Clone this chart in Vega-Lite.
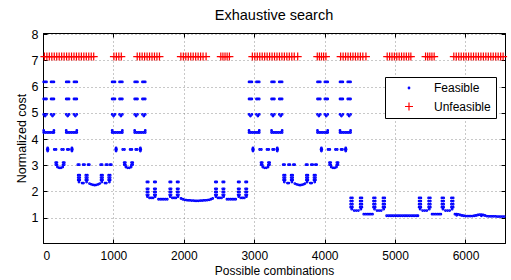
{
  "$schema": "https://vega.github.io/schema/vega-lite/v6.json",
  "width": 462,
  "height": 210,
  "autosize": {"type": "none"},
  "padding": {"left": 43, "top": 33, "right": 6, "bottom": 37},
  "background": "white",
  "title": {"text": "Exhaustive search", "font": "Liberation Sans", "fontSize": 14.5, "fontWeight": "normal", "color": "black", "offset": 5, "anchor": "middle"},
  "config": {
    "view": {"stroke": "black", "strokeWidth": 1},
    "axis": {
      "labelFont": "Liberation Sans", "labelFontSize": 12.5, "labelColor": "black",
      "titleFont": "Liberation Sans", "titleFontSize": 12.5, "titleFontWeight": "normal", "titleColor": "black",
      "domainColor": "black", "tickColor": "black", "tickSize": -4,
      "gridColor": "#777", "gridDash": [1, 3], "gridOpacity": 0.8
    },
    "legend": {
      "labelFont": "Liberation Sans", "labelFontSize": 12, "labelColor": "black"
    }
  },
  "layer": [
    {
      "data": {"values": [
{"x":10,"y":6.18,"t":"F"},{"x":30,"y":6.18,"t":"F"},{"x":50,"y":6.18,"t":"F"},{"x":115,"y":6.18,"t":"F"},{"x":135,"y":6.18,"t":"F"},{"x":155,"y":6.18,"t":"F"},{"x":330,"y":6.18,"t":"F"},{"x":350,"y":6.18,"t":"F"},{"x":370,"y":6.18,"t":"F"},{"x":440,"y":6.18,"t":"F"},{"x":460,"y":6.18,"t":"F"},{"x":480,"y":6.18,"t":"F"},
{"x":10,"y":5.53,"t":"F"},{"x":30,"y":5.53,"t":"F"},{"x":50,"y":5.53,"t":"F"},{"x":115,"y":5.53,"t":"F"},{"x":135,"y":5.53,"t":"F"},{"x":155,"y":5.53,"t":"F"},{"x":330,"y":5.53,"t":"F"},{"x":350,"y":5.53,"t":"F"},{"x":370,"y":5.53,"t":"F"},{"x":440,"y":5.53,"t":"F"},{"x":460,"y":5.53,"t":"F"},{"x":480,"y":5.53,"t":"F"},
{"x":10,"y":4.94,"t":"F"},{"x":30,"y":4.88,"t":"F"},{"x":50,"y":4.94,"t":"F"},{"x":115,"y":4.94,"t":"F"},{"x":135,"y":4.88,"t":"F"},{"x":155,"y":4.94,"t":"F"},{"x":330,"y":4.94,"t":"F"},{"x":350,"y":4.88,"t":"F"},{"x":370,"y":4.94,"t":"F"},{"x":440,"y":4.94,"t":"F"},{"x":460,"y":4.88,"t":"F"},{"x":480,"y":4.94,"t":"F"},
{"x":10,"y":4.25,"t":"F"},{"x":35,"y":4.25,"t":"F"},{"x":60,"y":4.25,"t":"F"},{"x":85,"y":4.25,"t":"F"},{"x":110,"y":4.25,"t":"F"},{"x":135,"y":4.25,"t":"F"},{"x":155,"y":4.25,"t":"F"},{"x":330,"y":4.25,"t":"F"},{"x":355,"y":4.25,"t":"F"},{"x":380,"y":4.25,"t":"F"},{"x":405,"y":4.25,"t":"F"},{"x":430,"y":4.25,"t":"F"},{"x":455,"y":4.25,"t":"F"},{"x":480,"y":4.25,"t":"F"},
{"x":10,"y":4.33,"t":"F"},{"x":155,"y":4.33,"t":"F"},{"x":330,"y":4.33,"t":"F"},{"x":480,"y":4.33,"t":"F"},
{"x":60,"y":3.6,"t":"F"},{"x":72,"y":3.6,"t":"F"},{"x":66,"y":3.66,"t":"F"},{"x":66,"y":3.54,"t":"F"},{"x":160,"y":3.6,"t":"F"},{"x":185,"y":3.6,"t":"F"},{"x":265,"y":3.6,"t":"F"},{"x":290,"y":3.6,"t":"F"},{"x":345,"y":3.6,"t":"F"},{"x":365,"y":3.6,"t":"F"},{"x":405,"y":3.6,"t":"F"},{"x":417,"y":3.6,"t":"F"},{"x":411,"y":3.66,"t":"F"},{"x":411,"y":3.54,"t":"F"},
{"x":180,"y":3.1,"t":"F"},{"x":198,"y":3.1,"t":"F"},{"x":285,"y":3.1,"t":"F"},{"x":303,"y":3.1,"t":"F"},{"x":182,"y":3.02,"t":"F"},{"x":200,"y":3.0,"t":"F"},{"x":283,"y":3.0,"t":"F"},{"x":301,"y":3.02,"t":"F"},{"x":205,"y":2.93,"t":"F"},{"x":230,"y":2.9,"t":"F"},{"x":255,"y":2.9,"t":"F"},{"x":280,"y":2.93,"t":"F"},
{"x":495,"y":3.02,"t":"F"},{"x":515,"y":3.02,"t":"F"},{"x":570,"y":3.02,"t":"F"},{"x":590,"y":3.02,"t":"F"},{"x":640,"y":3.02,"t":"F"},{"x":658,"y":3.02,"t":"F"},{"x":819,"y":3.02,"t":"F"},{"x":839,"y":3.02,"t":"F"},{"x":894,"y":3.02,"t":"F"},{"x":914,"y":3.02,"t":"F"},{"x":952,"y":3.02,"t":"F"},{"x":970,"y":3.02,"t":"F"},
{"x":500,"y":2.62,"t":"F"},{"x":522,"y":2.62,"t":"F"},{"x":608,"y":2.62,"t":"F"},{"x":630,"y":2.62,"t":"F"},{"x":824,"y":2.62,"t":"F"},{"x":846,"y":2.62,"t":"F"},{"x":932,"y":2.62,"t":"F"},{"x":954,"y":2.62,"t":"F"},
{"x":500,"y":2.53,"t":"F"},{"x":522,"y":2.53,"t":"F"},{"x":608,"y":2.53,"t":"F"},{"x":630,"y":2.53,"t":"F"},{"x":824,"y":2.53,"t":"F"},{"x":846,"y":2.53,"t":"F"},{"x":932,"y":2.53,"t":"F"},{"x":954,"y":2.53,"t":"F"},
{"x":500,"y":2.44,"t":"F"},{"x":522,"y":2.44,"t":"F"},{"x":608,"y":2.44,"t":"F"},{"x":630,"y":2.44,"t":"F"},{"x":824,"y":2.44,"t":"F"},{"x":846,"y":2.44,"t":"F"},{"x":932,"y":2.44,"t":"F"},{"x":954,"y":2.44,"t":"F"},
{"x":511,"y":2.36,"t":"F"},{"x":619,"y":2.36,"t":"F"},{"x":835,"y":2.36,"t":"F"},{"x":943,"y":2.36,"t":"F"},{"x":555,"y":2.32,"t":"F"},{"x":575,"y":2.32,"t":"F"},{"x":880,"y":2.32,"t":"F"},{"x":900,"y":2.32,"t":"F"},
{"x":660,"y":2.3,"t":"F"},{"x":685,"y":2.27,"t":"F"},{"x":710,"y":2.25,"t":"F"},{"x":735,"y":2.24,"t":"F"},{"x":760,"y":2.25,"t":"F"},{"x":785,"y":2.27,"t":"F"},{"x":805,"y":2.3,"t":"F"},

{"x":982,"y":6.18,"t":"F"},{"x":1002,"y":6.18,"t":"F"},{"x":1022,"y":6.18,"t":"F"},{"x":1087,"y":6.18,"t":"F"},{"x":1107,"y":6.18,"t":"F"},{"x":1127,"y":6.18,"t":"F"},{"x":1302,"y":6.18,"t":"F"},{"x":1322,"y":6.18,"t":"F"},{"x":1342,"y":6.18,"t":"F"},{"x":1412,"y":6.18,"t":"F"},{"x":1432,"y":6.18,"t":"F"},{"x":1452,"y":6.18,"t":"F"},
{"x":982,"y":5.53,"t":"F"},{"x":1002,"y":5.53,"t":"F"},{"x":1022,"y":5.53,"t":"F"},{"x":1087,"y":5.53,"t":"F"},{"x":1107,"y":5.53,"t":"F"},{"x":1127,"y":5.53,"t":"F"},{"x":1302,"y":5.53,"t":"F"},{"x":1322,"y":5.53,"t":"F"},{"x":1342,"y":5.53,"t":"F"},{"x":1412,"y":5.53,"t":"F"},{"x":1432,"y":5.53,"t":"F"},{"x":1452,"y":5.53,"t":"F"},
{"x":982,"y":4.94,"t":"F"},{"x":1002,"y":4.88,"t":"F"},{"x":1022,"y":4.94,"t":"F"},{"x":1087,"y":4.94,"t":"F"},{"x":1107,"y":4.88,"t":"F"},{"x":1127,"y":4.94,"t":"F"},{"x":1302,"y":4.94,"t":"F"},{"x":1322,"y":4.88,"t":"F"},{"x":1342,"y":4.94,"t":"F"},{"x":1412,"y":4.94,"t":"F"},{"x":1432,"y":4.88,"t":"F"},{"x":1452,"y":4.94,"t":"F"},
{"x":982,"y":4.25,"t":"F"},{"x":1007,"y":4.25,"t":"F"},{"x":1032,"y":4.25,"t":"F"},{"x":1057,"y":4.25,"t":"F"},{"x":1082,"y":4.25,"t":"F"},{"x":1107,"y":4.25,"t":"F"},{"x":1127,"y":4.25,"t":"F"},{"x":1302,"y":4.25,"t":"F"},{"x":1327,"y":4.25,"t":"F"},{"x":1352,"y":4.25,"t":"F"},{"x":1377,"y":4.25,"t":"F"},{"x":1402,"y":4.25,"t":"F"},{"x":1427,"y":4.25,"t":"F"},{"x":1452,"y":4.25,"t":"F"},
{"x":982,"y":4.33,"t":"F"},{"x":1127,"y":4.33,"t":"F"},{"x":1302,"y":4.33,"t":"F"},{"x":1452,"y":4.33,"t":"F"},
{"x":1032,"y":3.6,"t":"F"},{"x":1044,"y":3.6,"t":"F"},{"x":1038,"y":3.66,"t":"F"},{"x":1038,"y":3.54,"t":"F"},{"x":1132,"y":3.6,"t":"F"},{"x":1157,"y":3.6,"t":"F"},{"x":1237,"y":3.6,"t":"F"},{"x":1262,"y":3.6,"t":"F"},{"x":1317,"y":3.6,"t":"F"},{"x":1337,"y":3.6,"t":"F"},{"x":1377,"y":3.6,"t":"F"},{"x":1389,"y":3.6,"t":"F"},{"x":1383,"y":3.66,"t":"F"},{"x":1383,"y":3.54,"t":"F"},
{"x":1152,"y":3.1,"t":"F"},{"x":1170,"y":3.1,"t":"F"},{"x":1257,"y":3.1,"t":"F"},{"x":1275,"y":3.1,"t":"F"},{"x":1154,"y":3.02,"t":"F"},{"x":1172,"y":3.0,"t":"F"},{"x":1255,"y":3.0,"t":"F"},{"x":1273,"y":3.02,"t":"F"},{"x":1177,"y":2.93,"t":"F"},{"x":1202,"y":2.9,"t":"F"},{"x":1227,"y":2.9,"t":"F"},{"x":1252,"y":2.93,"t":"F"},

{"x":2926,"y":6.18,"t":"F"},{"x":2946,"y":6.18,"t":"F"},{"x":2966,"y":6.18,"t":"F"},{"x":3031,"y":6.18,"t":"F"},{"x":3051,"y":6.18,"t":"F"},{"x":3071,"y":6.18,"t":"F"},{"x":3246,"y":6.18,"t":"F"},{"x":3266,"y":6.18,"t":"F"},{"x":3286,"y":6.18,"t":"F"},{"x":3356,"y":6.18,"t":"F"},{"x":3376,"y":6.18,"t":"F"},{"x":3396,"y":6.18,"t":"F"},
{"x":2926,"y":5.53,"t":"F"},{"x":2946,"y":5.53,"t":"F"},{"x":2966,"y":5.53,"t":"F"},{"x":3031,"y":5.53,"t":"F"},{"x":3051,"y":5.53,"t":"F"},{"x":3071,"y":5.53,"t":"F"},{"x":3246,"y":5.53,"t":"F"},{"x":3266,"y":5.53,"t":"F"},{"x":3286,"y":5.53,"t":"F"},{"x":3356,"y":5.53,"t":"F"},{"x":3376,"y":5.53,"t":"F"},{"x":3396,"y":5.53,"t":"F"},
{"x":2926,"y":4.94,"t":"F"},{"x":2946,"y":4.88,"t":"F"},{"x":2966,"y":4.94,"t":"F"},{"x":3031,"y":4.94,"t":"F"},{"x":3051,"y":4.88,"t":"F"},{"x":3071,"y":4.94,"t":"F"},{"x":3246,"y":4.94,"t":"F"},{"x":3266,"y":4.88,"t":"F"},{"x":3286,"y":4.94,"t":"F"},{"x":3356,"y":4.94,"t":"F"},{"x":3376,"y":4.88,"t":"F"},{"x":3396,"y":4.94,"t":"F"},
{"x":2926,"y":4.25,"t":"F"},{"x":2951,"y":4.25,"t":"F"},{"x":2976,"y":4.25,"t":"F"},{"x":3001,"y":4.25,"t":"F"},{"x":3026,"y":4.25,"t":"F"},{"x":3051,"y":4.25,"t":"F"},{"x":3071,"y":4.25,"t":"F"},{"x":3246,"y":4.25,"t":"F"},{"x":3271,"y":4.25,"t":"F"},{"x":3296,"y":4.25,"t":"F"},{"x":3321,"y":4.25,"t":"F"},{"x":3346,"y":4.25,"t":"F"},{"x":3371,"y":4.25,"t":"F"},{"x":3396,"y":4.25,"t":"F"},
{"x":2926,"y":4.33,"t":"F"},{"x":3071,"y":4.33,"t":"F"},{"x":3246,"y":4.33,"t":"F"},{"x":3396,"y":4.33,"t":"F"},
{"x":2976,"y":3.6,"t":"F"},{"x":2988,"y":3.6,"t":"F"},{"x":2982,"y":3.66,"t":"F"},{"x":2982,"y":3.54,"t":"F"},{"x":3076,"y":3.6,"t":"F"},{"x":3101,"y":3.6,"t":"F"},{"x":3181,"y":3.6,"t":"F"},{"x":3206,"y":3.6,"t":"F"},{"x":3261,"y":3.6,"t":"F"},{"x":3281,"y":3.6,"t":"F"},{"x":3321,"y":3.6,"t":"F"},{"x":3333,"y":3.6,"t":"F"},{"x":3327,"y":3.66,"t":"F"},{"x":3327,"y":3.54,"t":"F"},
{"x":3096,"y":3.1,"t":"F"},{"x":3114,"y":3.1,"t":"F"},{"x":3201,"y":3.1,"t":"F"},{"x":3219,"y":3.1,"t":"F"},{"x":3098,"y":3.02,"t":"F"},{"x":3116,"y":3.0,"t":"F"},{"x":3199,"y":3.0,"t":"F"},{"x":3217,"y":3.02,"t":"F"},{"x":3121,"y":2.93,"t":"F"},{"x":3146,"y":2.9,"t":"F"},{"x":3171,"y":2.9,"t":"F"},{"x":3196,"y":2.93,"t":"F"},
{"x":3411,"y":3.02,"t":"F"},{"x":3431,"y":3.02,"t":"F"},{"x":3486,"y":3.02,"t":"F"},{"x":3506,"y":3.02,"t":"F"},{"x":3556,"y":3.02,"t":"F"},{"x":3574,"y":3.02,"t":"F"},{"x":3735,"y":3.02,"t":"F"},{"x":3755,"y":3.02,"t":"F"},{"x":3810,"y":3.02,"t":"F"},{"x":3830,"y":3.02,"t":"F"},{"x":3868,"y":3.02,"t":"F"},{"x":3886,"y":3.02,"t":"F"},
{"x":3416,"y":2.62,"t":"F"},{"x":3438,"y":2.62,"t":"F"},{"x":3524,"y":2.62,"t":"F"},{"x":3546,"y":2.62,"t":"F"},{"x":3740,"y":2.62,"t":"F"},{"x":3762,"y":2.62,"t":"F"},{"x":3848,"y":2.62,"t":"F"},{"x":3870,"y":2.62,"t":"F"},
{"x":3416,"y":2.53,"t":"F"},{"x":3438,"y":2.53,"t":"F"},{"x":3524,"y":2.53,"t":"F"},{"x":3546,"y":2.53,"t":"F"},{"x":3740,"y":2.53,"t":"F"},{"x":3762,"y":2.53,"t":"F"},{"x":3848,"y":2.53,"t":"F"},{"x":3870,"y":2.53,"t":"F"},
{"x":3416,"y":2.44,"t":"F"},{"x":3438,"y":2.44,"t":"F"},{"x":3524,"y":2.44,"t":"F"},{"x":3546,"y":2.44,"t":"F"},{"x":3740,"y":2.44,"t":"F"},{"x":3762,"y":2.44,"t":"F"},{"x":3848,"y":2.44,"t":"F"},{"x":3870,"y":2.44,"t":"F"},
{"x":3427,"y":2.36,"t":"F"},{"x":3535,"y":2.36,"t":"F"},{"x":3751,"y":2.36,"t":"F"},{"x":3859,"y":2.36,"t":"F"},{"x":3471,"y":2.32,"t":"F"},{"x":3491,"y":2.32,"t":"F"},{"x":3796,"y":2.32,"t":"F"},{"x":3816,"y":2.32,"t":"F"},
{"x":3576,"y":2.3,"t":"F"},{"x":3601,"y":2.27,"t":"F"},{"x":3626,"y":2.25,"t":"F"},{"x":3651,"y":2.24,"t":"F"},{"x":3676,"y":2.25,"t":"F"},{"x":3701,"y":2.27,"t":"F"},{"x":3721,"y":2.3,"t":"F"},

{"x":3898,"y":6.18,"t":"F"},{"x":3918,"y":6.18,"t":"F"},{"x":3938,"y":6.18,"t":"F"},{"x":4003,"y":6.18,"t":"F"},{"x":4023,"y":6.18,"t":"F"},{"x":4043,"y":6.18,"t":"F"},{"x":4218,"y":6.18,"t":"F"},{"x":4238,"y":6.18,"t":"F"},{"x":4258,"y":6.18,"t":"F"},{"x":4328,"y":6.18,"t":"F"},{"x":4348,"y":6.18,"t":"F"},{"x":4368,"y":6.18,"t":"F"},
{"x":3898,"y":5.53,"t":"F"},{"x":3918,"y":5.53,"t":"F"},{"x":3938,"y":5.53,"t":"F"},{"x":4003,"y":5.53,"t":"F"},{"x":4023,"y":5.53,"t":"F"},{"x":4043,"y":5.53,"t":"F"},{"x":4218,"y":5.53,"t":"F"},{"x":4238,"y":5.53,"t":"F"},{"x":4258,"y":5.53,"t":"F"},{"x":4328,"y":5.53,"t":"F"},{"x":4348,"y":5.53,"t":"F"},{"x":4368,"y":5.53,"t":"F"},
{"x":3898,"y":4.94,"t":"F"},{"x":3918,"y":4.88,"t":"F"},{"x":3938,"y":4.94,"t":"F"},{"x":4003,"y":4.94,"t":"F"},{"x":4023,"y":4.88,"t":"F"},{"x":4043,"y":4.94,"t":"F"},{"x":4218,"y":4.94,"t":"F"},{"x":4238,"y":4.88,"t":"F"},{"x":4258,"y":4.94,"t":"F"},{"x":4328,"y":4.94,"t":"F"},{"x":4348,"y":4.88,"t":"F"},{"x":4368,"y":4.94,"t":"F"},
{"x":3898,"y":4.25,"t":"F"},{"x":3923,"y":4.25,"t":"F"},{"x":3948,"y":4.25,"t":"F"},{"x":3973,"y":4.25,"t":"F"},{"x":3998,"y":4.25,"t":"F"},{"x":4023,"y":4.25,"t":"F"},{"x":4043,"y":4.25,"t":"F"},{"x":4218,"y":4.25,"t":"F"},{"x":4243,"y":4.25,"t":"F"},{"x":4268,"y":4.25,"t":"F"},{"x":4293,"y":4.25,"t":"F"},{"x":4318,"y":4.25,"t":"F"},{"x":4343,"y":4.25,"t":"F"},{"x":4368,"y":4.25,"t":"F"},
{"x":3898,"y":4.33,"t":"F"},{"x":4043,"y":4.33,"t":"F"},{"x":4218,"y":4.33,"t":"F"},{"x":4368,"y":4.33,"t":"F"},
{"x":3948,"y":3.6,"t":"F"},{"x":3960,"y":3.6,"t":"F"},{"x":3954,"y":3.66,"t":"F"},{"x":3954,"y":3.54,"t":"F"},{"x":4048,"y":3.6,"t":"F"},{"x":4073,"y":3.6,"t":"F"},{"x":4153,"y":3.6,"t":"F"},{"x":4178,"y":3.6,"t":"F"},{"x":4233,"y":3.6,"t":"F"},{"x":4253,"y":3.6,"t":"F"},{"x":4293,"y":3.6,"t":"F"},{"x":4305,"y":3.6,"t":"F"},{"x":4299,"y":3.66,"t":"F"},{"x":4299,"y":3.54,"t":"F"},
{"x":4068,"y":3.1,"t":"F"},{"x":4086,"y":3.1,"t":"F"},{"x":4173,"y":3.1,"t":"F"},{"x":4191,"y":3.1,"t":"F"},{"x":4070,"y":3.02,"t":"F"},{"x":4088,"y":3.0,"t":"F"},{"x":4171,"y":3.0,"t":"F"},{"x":4189,"y":3.02,"t":"F"},{"x":4093,"y":2.93,"t":"F"},{"x":4118,"y":2.9,"t":"F"},{"x":4143,"y":2.9,"t":"F"},{"x":4168,"y":2.93,"t":"F"},

{"x":1475,"y":2.36,"t":"F"},{"x":1495,"y":2.36,"t":"F"},{"x":1580,"y":2.36,"t":"F"},{"x":1600,"y":2.36,"t":"F"},{"x":1475,"y":2.1,"t":"F"},{"x":1495,"y":2.1,"t":"F"},{"x":1580,"y":2.1,"t":"F"},{"x":1600,"y":2.1,"t":"F"},{"x":1475,"y":1.98,"t":"F"},{"x":1495,"y":1.98,"t":"F"},{"x":1580,"y":1.98,"t":"F"},{"x":1600,"y":1.98,"t":"F"},{"x":1475,"y":1.87,"t":"F"},{"x":1495,"y":1.87,"t":"F"},{"x":1580,"y":1.87,"t":"F"},{"x":1600,"y":1.87,"t":"F"},{"x":1483,"y":1.8,"t":"F"},{"x":1593,"y":1.8,"t":"F"},{"x":1513,"y":1.75,"t":"F"},{"x":1538,"y":1.75,"t":"F"},{"x":1563,"y":1.75,"t":"F"},
{"x":1799,"y":2.36,"t":"F"},{"x":1819,"y":2.36,"t":"F"},{"x":1904,"y":2.36,"t":"F"},{"x":1924,"y":2.36,"t":"F"},{"x":1799,"y":2.1,"t":"F"},{"x":1819,"y":2.1,"t":"F"},{"x":1904,"y":2.1,"t":"F"},{"x":1924,"y":2.1,"t":"F"},{"x":1799,"y":1.98,"t":"F"},{"x":1819,"y":1.98,"t":"F"},{"x":1904,"y":1.98,"t":"F"},{"x":1924,"y":1.98,"t":"F"},{"x":1799,"y":1.87,"t":"F"},{"x":1819,"y":1.87,"t":"F"},{"x":1904,"y":1.87,"t":"F"},{"x":1924,"y":1.87,"t":"F"},{"x":1807,"y":1.8,"t":"F"},{"x":1917,"y":1.8,"t":"F"},{"x":1837,"y":1.75,"t":"F"},{"x":1862,"y":1.75,"t":"F"},{"x":1887,"y":1.75,"t":"F"},
{"x":2447,"y":2.36,"t":"F"},{"x":2467,"y":2.36,"t":"F"},{"x":2552,"y":2.36,"t":"F"},{"x":2572,"y":2.36,"t":"F"},{"x":2447,"y":2.1,"t":"F"},{"x":2467,"y":2.1,"t":"F"},{"x":2552,"y":2.1,"t":"F"},{"x":2572,"y":2.1,"t":"F"},{"x":2447,"y":1.98,"t":"F"},{"x":2467,"y":1.98,"t":"F"},{"x":2552,"y":1.98,"t":"F"},{"x":2572,"y":1.98,"t":"F"},{"x":2447,"y":1.87,"t":"F"},{"x":2467,"y":1.87,"t":"F"},{"x":2552,"y":1.87,"t":"F"},{"x":2572,"y":1.87,"t":"F"},{"x":2455,"y":1.8,"t":"F"},{"x":2565,"y":1.8,"t":"F"},{"x":2485,"y":1.75,"t":"F"},{"x":2510,"y":1.75,"t":"F"},{"x":2535,"y":1.75,"t":"F"},
{"x":2771,"y":2.36,"t":"F"},{"x":2791,"y":2.36,"t":"F"},{"x":2876,"y":2.36,"t":"F"},{"x":2896,"y":2.36,"t":"F"},{"x":2771,"y":2.1,"t":"F"},{"x":2791,"y":2.1,"t":"F"},{"x":2876,"y":2.1,"t":"F"},{"x":2896,"y":2.1,"t":"F"},{"x":2771,"y":1.98,"t":"F"},{"x":2791,"y":1.98,"t":"F"},{"x":2876,"y":1.98,"t":"F"},{"x":2896,"y":1.98,"t":"F"},{"x":2771,"y":1.87,"t":"F"},{"x":2791,"y":1.87,"t":"F"},{"x":2876,"y":1.87,"t":"F"},{"x":2896,"y":1.87,"t":"F"},{"x":2779,"y":1.8,"t":"F"},{"x":2889,"y":1.8,"t":"F"},{"x":2809,"y":1.75,"t":"F"},{"x":2834,"y":1.75,"t":"F"},{"x":2859,"y":1.75,"t":"F"},
{"x":1640,"y":1.7,"t":"F"},{"x":1665,"y":1.7,"t":"F"},{"x":1690,"y":1.7,"t":"F"},{"x":1715,"y":1.7,"t":"F"},{"x":1740,"y":1.7,"t":"F"},{"x":1765,"y":1.7,"t":"F"},
{"x":1960,"y":1.73,"t":"F"},{"x":1985,"y":1.7,"t":"F"},{"x":2010,"y":1.68,"t":"F"},{"x":2035,"y":1.67,"t":"F"},{"x":2060,"y":1.66,"t":"F"},{"x":2085,"y":1.66,"t":"F"},{"x":2110,"y":1.65,"t":"F"},{"x":2135,"y":1.65,"t":"F"},{"x":2160,"y":1.64,"t":"F"},{"x":2185,"y":1.64,"t":"F"},{"x":2210,"y":1.64,"t":"F"},{"x":2235,"y":1.65,"t":"F"},{"x":2260,"y":1.65,"t":"F"},{"x":2285,"y":1.66,"t":"F"},{"x":2310,"y":1.66,"t":"F"},{"x":2335,"y":1.67,"t":"F"},{"x":2360,"y":1.68,"t":"F"},{"x":2385,"y":1.7,"t":"F"},{"x":2410,"y":1.73,"t":"F"},
{"x":2612,"y":1.7,"t":"F"},{"x":2637,"y":1.7,"t":"F"},{"x":2662,"y":1.7,"t":"F"},{"x":2687,"y":1.7,"t":"F"},{"x":2712,"y":1.7,"t":"F"},{"x":2737,"y":1.7,"t":"F"},

{"x":4369,"y":1.75,"t":"F"},{"x":4394,"y":1.75,"t":"F"},{"x":4504,"y":1.75,"t":"F"},{"x":4529,"y":1.75,"t":"F"},{"x":4369,"y":1.63,"t":"F"},{"x":4394,"y":1.63,"t":"F"},{"x":4504,"y":1.63,"t":"F"},{"x":4529,"y":1.63,"t":"F"},{"x":4369,"y":1.51,"t":"F"},{"x":4394,"y":1.51,"t":"F"},{"x":4504,"y":1.51,"t":"F"},{"x":4529,"y":1.51,"t":"F"},{"x":4369,"y":1.4,"t":"F"},{"x":4394,"y":1.4,"t":"F"},{"x":4504,"y":1.4,"t":"F"},{"x":4529,"y":1.4,"t":"F"},{"x":4384,"y":1.32,"t":"F"},{"x":4514,"y":1.32,"t":"F"},{"x":4419,"y":1.27,"t":"F"},{"x":4449,"y":1.27,"t":"F"},{"x":4479,"y":1.27,"t":"F"},
{"x":4693,"y":1.75,"t":"F"},{"x":4718,"y":1.75,"t":"F"},{"x":4828,"y":1.75,"t":"F"},{"x":4853,"y":1.75,"t":"F"},{"x":4693,"y":1.63,"t":"F"},{"x":4718,"y":1.63,"t":"F"},{"x":4828,"y":1.63,"t":"F"},{"x":4853,"y":1.63,"t":"F"},{"x":4693,"y":1.51,"t":"F"},{"x":4718,"y":1.51,"t":"F"},{"x":4828,"y":1.51,"t":"F"},{"x":4853,"y":1.51,"t":"F"},{"x":4693,"y":1.4,"t":"F"},{"x":4718,"y":1.4,"t":"F"},{"x":4828,"y":1.4,"t":"F"},{"x":4853,"y":1.4,"t":"F"},{"x":4708,"y":1.32,"t":"F"},{"x":4838,"y":1.32,"t":"F"},{"x":4743,"y":1.27,"t":"F"},{"x":4773,"y":1.27,"t":"F"},{"x":4803,"y":1.27,"t":"F"},
{"x":5341,"y":1.75,"t":"F"},{"x":5366,"y":1.75,"t":"F"},{"x":5476,"y":1.75,"t":"F"},{"x":5501,"y":1.75,"t":"F"},{"x":5341,"y":1.63,"t":"F"},{"x":5366,"y":1.63,"t":"F"},{"x":5476,"y":1.63,"t":"F"},{"x":5501,"y":1.63,"t":"F"},{"x":5341,"y":1.51,"t":"F"},{"x":5366,"y":1.51,"t":"F"},{"x":5476,"y":1.51,"t":"F"},{"x":5501,"y":1.51,"t":"F"},{"x":5341,"y":1.4,"t":"F"},{"x":5366,"y":1.4,"t":"F"},{"x":5476,"y":1.4,"t":"F"},{"x":5501,"y":1.4,"t":"F"},{"x":5356,"y":1.32,"t":"F"},{"x":5486,"y":1.32,"t":"F"},{"x":5391,"y":1.27,"t":"F"},{"x":5421,"y":1.27,"t":"F"},{"x":5451,"y":1.27,"t":"F"},
{"x":5665,"y":1.75,"t":"F"},{"x":5690,"y":1.75,"t":"F"},{"x":5800,"y":1.75,"t":"F"},{"x":5825,"y":1.75,"t":"F"},{"x":5665,"y":1.63,"t":"F"},{"x":5690,"y":1.63,"t":"F"},{"x":5800,"y":1.63,"t":"F"},{"x":5825,"y":1.63,"t":"F"},{"x":5665,"y":1.51,"t":"F"},{"x":5690,"y":1.51,"t":"F"},{"x":5800,"y":1.51,"t":"F"},{"x":5825,"y":1.51,"t":"F"},{"x":5665,"y":1.4,"t":"F"},{"x":5690,"y":1.4,"t":"F"},{"x":5800,"y":1.4,"t":"F"},{"x":5825,"y":1.4,"t":"F"},{"x":5680,"y":1.32,"t":"F"},{"x":5810,"y":1.32,"t":"F"},{"x":5715,"y":1.27,"t":"F"},{"x":5745,"y":1.27,"t":"F"},{"x":5775,"y":1.27,"t":"F"},
{"x":4555,"y":1.13,"t":"F"},{"x":4580,"y":1.13,"t":"F"},{"x":4605,"y":1.13,"t":"F"},{"x":4630,"y":1.13,"t":"F"},{"x":4655,"y":1.13,"t":"F"},{"x":4680,"y":1.13,"t":"F"},
{"x":4880,"y":1.07,"t":"F"},{"x":4905,"y":1.07,"t":"F"},{"x":4930,"y":1.07,"t":"F"},{"x":4955,"y":1.07,"t":"F"},{"x":4980,"y":1.07,"t":"F"},{"x":5005,"y":1.07,"t":"F"},{"x":5030,"y":1.07,"t":"F"},{"x":5055,"y":1.07,"t":"F"},{"x":5080,"y":1.07,"t":"F"},{"x":5105,"y":1.07,"t":"F"},{"x":5130,"y":1.07,"t":"F"},{"x":5155,"y":1.07,"t":"F"},{"x":5180,"y":1.07,"t":"F"},{"x":5205,"y":1.07,"t":"F"},{"x":5230,"y":1.07,"t":"F"},{"x":5255,"y":1.07,"t":"F"},{"x":5280,"y":1.07,"t":"F"},{"x":5305,"y":1.07,"t":"F"},{"x":5325,"y":1.07,"t":"F"},
{"x":5525,"y":1.13,"t":"F"},{"x":5550,"y":1.13,"t":"F"},{"x":5575,"y":1.13,"t":"F"},{"x":5600,"y":1.13,"t":"F"},{"x":5625,"y":1.13,"t":"F"},{"x":5650,"y":1.13,"t":"F"},
{"x":5850,"y":1.13,"t":"F"},{"x":5875,"y":1.13,"t":"F"},{"x":5875,"y":1.09,"t":"F"},{"x":5900,"y":1.12,"t":"F"},{"x":5925,"y":1.1,"t":"F"},{"x":5950,"y":1.08,"t":"F"},{"x":5975,"y":1.07,"t":"F"},{"x":6000,"y":1.06,"t":"F"},{"x":6025,"y":1.06,"t":"F"},{"x":6050,"y":1.06,"t":"F"},{"x":6075,"y":1.06,"t":"F"},{"x":6100,"y":1.06,"t":"F"},{"x":6125,"y":1.07,"t":"F"},{"x":6150,"y":1.08,"t":"F"},{"x":6175,"y":1.1,"t":"F"},{"x":6200,"y":1.11,"t":"F"},{"x":6225,"y":1.11,"t":"F"},{"x":6225,"y":1.07,"t":"F"},{"x":6250,"y":1.1,"t":"F"},{"x":6275,"y":1.08,"t":"F"},{"x":6300,"y":1.06,"t":"F"},{"x":6325,"y":1.05,"t":"F"},{"x":6350,"y":1.05,"t":"F"},{"x":6375,"y":1.05,"t":"F"},{"x":6400,"y":1.05,"t":"F"},{"x":6425,"y":1.05,"t":"F"},{"x":6450,"y":1.04,"t":"F"},{"x":6475,"y":1.04,"t":"F"},{"x":6500,"y":1.04,"t":"F"},{"x":6525,"y":1.04,"t":"F"},{"x":6550,"y":1.04,"t":"F"},

{"x":20,"y":7.15,"t":"U"},{"x":55,"y":7.15,"t":"U"},{"x":90,"y":7.15,"t":"U"},{"x":125,"y":7.15,"t":"U"},{"x":160,"y":7.15,"t":"U"},{"x":195,"y":7.15,"t":"U"},{"x":230,"y":7.15,"t":"U"},{"x":265,"y":7.15,"t":"U"},{"x":300,"y":7.15,"t":"U"},{"x":335,"y":7.15,"t":"U"},{"x":370,"y":7.15,"t":"U"},{"x":405,"y":7.15,"t":"U"},{"x":440,"y":7.15,"t":"U"},{"x":475,"y":7.15,"t":"U"},{"x":510,"y":7.15,"t":"U"},{"x":545,"y":7.15,"t":"U"},{"x":580,"y":7.15,"t":"U"},{"x":615,"y":7.15,"t":"U"},{"x":650,"y":7.15,"t":"U"},{"x":685,"y":7.15,"t":"U"},{"x":720,"y":7.15,"t":"U"},
{"x":1007,"y":7.15,"t":"U"},{"x":1042,"y":7.15,"t":"U"},{"x":1077,"y":7.15,"t":"U"},{"x":1112,"y":7.15,"t":"U"},
{"x":1338,"y":7.15,"t":"U"},{"x":1373,"y":7.15,"t":"U"},{"x":1408,"y":7.15,"t":"U"},{"x":1443,"y":7.15,"t":"U"},{"x":1478,"y":7.15,"t":"U"},{"x":1513,"y":7.15,"t":"U"},{"x":1548,"y":7.15,"t":"U"},{"x":1583,"y":7.15,"t":"U"},{"x":1618,"y":7.15,"t":"U"},{"x":1654,"y":7.15,"t":"U"},
{"x":1958,"y":7.15,"t":"U"},{"x":1993,"y":7.15,"t":"U"},{"x":2028,"y":7.15,"t":"U"},{"x":2063,"y":7.15,"t":"U"},{"x":2098,"y":7.15,"t":"U"},{"x":2133,"y":7.15,"t":"U"},{"x":2168,"y":7.15,"t":"U"},{"x":2203,"y":7.15,"t":"U"},{"x":2238,"y":7.15,"t":"U"},{"x":2273,"y":7.15,"t":"U"},{"x":2316,"y":7.15,"t":"U"},
{"x":2525,"y":7.15,"t":"U"},{"x":2555,"y":7.15,"t":"U"},{"x":2585,"y":7.15,"t":"U"},{"x":2615,"y":7.15,"t":"U"},{"x":2647,"y":7.15,"t":"U"},
{"x":2973,"y":7.15,"t":"U"},{"x":3008,"y":7.15,"t":"U"},{"x":3043,"y":7.15,"t":"U"},{"x":3078,"y":7.15,"t":"U"},{"x":3113,"y":7.15,"t":"U"},{"x":3148,"y":7.15,"t":"U"},{"x":3183,"y":7.15,"t":"U"},{"x":3218,"y":7.15,"t":"U"},{"x":3253,"y":7.15,"t":"U"},{"x":3288,"y":7.15,"t":"U"},{"x":3323,"y":7.15,"t":"U"},{"x":3358,"y":7.15,"t":"U"},{"x":3393,"y":7.15,"t":"U"},{"x":3428,"y":7.15,"t":"U"},{"x":3463,"y":7.15,"t":"U"},{"x":3498,"y":7.15,"t":"U"},{"x":3533,"y":7.15,"t":"U"},{"x":3568,"y":7.15,"t":"U"},{"x":3617,"y":7.15,"t":"U"},
{"x":3895,"y":7.15,"t":"U"},{"x":3925,"y":7.15,"t":"U"},{"x":3955,"y":7.15,"t":"U"},{"x":3985,"y":7.15,"t":"U"},{"x":4018,"y":7.15,"t":"U"},
{"x":4227,"y":7.15,"t":"U"},{"x":4262,"y":7.15,"t":"U"},{"x":4297,"y":7.15,"t":"U"},{"x":4332,"y":7.15,"t":"U"},{"x":4367,"y":7.15,"t":"U"},{"x":4402,"y":7.15,"t":"U"},{"x":4437,"y":7.15,"t":"U"},{"x":4472,"y":7.15,"t":"U"},{"x":4507,"y":7.15,"t":"U"},{"x":4542,"y":7.15,"t":"U"},{"x":4586,"y":7.15,"t":"U"},
{"x":4888,"y":7.15,"t":"U"},{"x":4922,"y":7.15,"t":"U"},{"x":4956,"y":7.15,"t":"U"},{"x":4990,"y":7.15,"t":"U"},{"x":5024,"y":7.15,"t":"U"},{"x":5058,"y":7.15,"t":"U"},{"x":5092,"y":7.15,"t":"U"},{"x":5126,"y":7.15,"t":"U"},{"x":5160,"y":7.15,"t":"U"},{"x":5194,"y":7.15,"t":"U"},{"x":5224,"y":7.15,"t":"U"},
{"x":5433,"y":7.15,"t":"U"},{"x":5463,"y":7.15,"t":"U"},{"x":5493,"y":7.15,"t":"U"},{"x":5523,"y":7.15,"t":"U"},{"x":5555,"y":7.15,"t":"U"},
{"x":5834,"y":7.15,"t":"U"},{"x":5869,"y":7.15,"t":"U"},{"x":5904,"y":7.15,"t":"U"},{"x":5939,"y":7.15,"t":"U"},{"x":5974,"y":7.15,"t":"U"},{"x":6009,"y":7.15,"t":"U"},{"x":6044,"y":7.15,"t":"U"},{"x":6079,"y":7.15,"t":"U"},{"x":6114,"y":7.15,"t":"U"},{"x":6149,"y":7.15,"t":"U"},{"x":6184,"y":7.15,"t":"U"},{"x":6219,"y":7.15,"t":"U"},{"x":6254,"y":7.15,"t":"U"},{"x":6289,"y":7.15,"t":"U"},{"x":6324,"y":7.15,"t":"U"},{"x":6359,"y":7.15,"t":"U"},{"x":6394,"y":7.15,"t":"U"},{"x":6429,"y":7.15,"t":"U"},{"x":6464,"y":7.15,"t":"U"},{"x":6499,"y":7.15,"t":"U"},{"x":6534,"y":7.15,"t":"U"}
      ]},
      "mark": {"type": "point", "filled": false, "size": 64, "strokeWidth": 1.2, "opacity": 1},
      "encoding": {
        "x": {"field": "x", "type": "quantitative", "scale": {"domain": [0, 6561], "nice": false, "zero": false},
              "axis": {"values": [0, 1000, 2000, 3000, 4000, 5000, 6000], "title": "Possible combinations", "labelFontSize": 12, "labelPadding": 11, "titleFontSize": 12, "titleY": 31, "titleBaseline": "alphabetic", "grid": true, "format": "d"}},
        "y": {"field": "y", "type": "quantitative", "scale": {"domain": [0.03, 8.05], "nice": false, "zero": false},
              "axis": {"values": [1, 2, 3, 4, 5, 6, 7, 8], "title": "Normalized cost", "labelPadding": 9, "titleX": -18, "titleBaseline": "alphabetic", "grid": true}},
        "color": {"field": "t", "type": "nominal",
                  "scale": {"domain": ["F", "U"], "range": ["#0000ff", "#ff0000"]},
                  "legend": {"title": null, "orient": "none", "legendX": 342, "legendY": 44, "padding": 5, "symbolOffset": 13, "labelOffset": 19, "rowPadding": 5.5, "strokeColor": "black", "fillColor": "white", "symbolSize": 64, "symbolStrokeWidth": 1.2, "labelExpr": "datum.label == 'F' ? 'Feasible' : 'Unfeasible'"}},
        "shape": {"field": "t", "type": "nominal",
                  "scale": {"domain": ["F", "U"], "range": ["M-0.2,0A0.2,0.2,0,1,1,0.2,0A0.2,0.2,0,1,1,-0.2,0Z", "M-1,0H1M0,-1V1"]},
                  "legend": {"title": null, "orient": "none", "legendX": 342, "legendY": 44, "padding": 5, "symbolOffset": 13, "labelOffset": 19, "rowPadding": 5.5, "strokeColor": "black", "fillColor": "white", "symbolSize": 64, "symbolStrokeWidth": 1.2, "labelExpr": "datum.label == 'F' ? 'Feasible' : 'Unfeasible'"}}
      }
    },
    {
      "data": {"values": [{"x": 0, "y": 1}]},
      "mark": {"type": "point", "opacity": 0},
      "encoding": {
        "x": {"field": "x", "type": "quantitative", "axis": {"orient": "top", "values": [0, 1000, 2000, 3000, 4000, 5000, 6000], "labels": false, "title": null, "grid": false}},
        "y": {"field": "y", "type": "quantitative", "axis": {"orient": "right", "values": [1, 2, 3, 4, 5, 6, 7, 8], "labels": false, "title": null, "grid": false}}
      }
    }
  ],
  "resolve": {"axis": {"x": "independent", "y": "independent"}}
}
